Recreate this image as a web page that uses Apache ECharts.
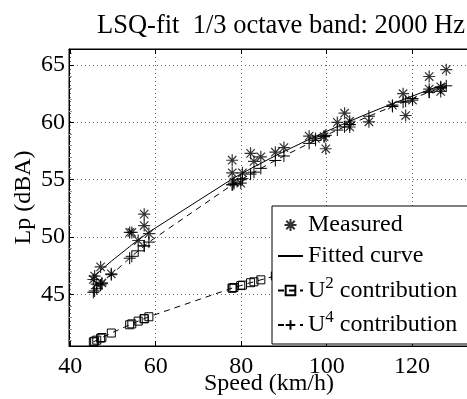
<!DOCTYPE html>
<html>
<head>
<meta charset="utf-8">
<script src="https://cdn.jsdelivr.net/npm/echarts@6/dist/echarts.min.js"></script>
<style>
  html, body { margin: 0; padding: 0; background: #fff; }
  #chart { width: 467px; height: 399px; }
</style>
</head>
<body>
<div id="chart"></div>
<script>
// Vehicle pass-by levels in the 2000 Hz third-octave band
const speed = [45.4, 45.7, 46.2, 47.1, 47.4, 49.6, 53.9, 54.4, 55.9, 57.3, 57.3, 58.4,
  77.9, 77.9, 78.3, 79.9, 80.3, 82.2, 83.0, 84.6, 88.0, 90.0,
  95.9, 97.4, 99.4, 99.8, 102.5, 104.2, 105.4, 105.4, 109.9, 115.4, 117.9, 118.5, 120.1,
  124.0, 124.0, 126.7, 126.7, 128.0];
const measured = [46.3, 46.6, 45.9, 47.4, 46.0, 46.8, 50.4, 50.4, 49.7, 52.0, 51.0, 50.3,
  56.7, 55.6, 54.8, 54.7, 55.6, 57.3, 56.6, 57.0, 57.4, 57.8,
  58.8, 58.6, 58.75, 57.7, 60.0, 60.8, 60.1, 59.6, 60.05, 61.5, 62.5, 60.6, 61.95,
  64.0, 62.9, 63.1, 62.7, 64.6];
const fitted = [46.55, 46.64, 46.81, 47.10, 47.20, 47.89, 49.17, 49.32, 49.75, 50.13, 50.13, 50.43,
  55.07, 55.07, 55.16, 55.49, 55.58, 55.96, 56.12, 56.43, 57.09, 57.46,
  58.52, 58.78, 59.12, 59.19, 59.63, 59.91, 60.10, 60.10, 60.81, 61.63, 61.99, 62.08, 62.30,
  62.85, 62.85, 63.21, 63.21, 63.39];
const u2Part = [40.86, 40.92, 41.01, 41.18, 41.24, 41.63, 42.35, 42.43, 42.67, 42.88, 42.88, 43.05,
  45.55, 45.55, 45.60, 45.77, 45.81, 46.02, 46.10, 46.27, 46.61, 46.80,
  47.36, 47.49, 47.67, 47.70, 47.93, 48.08, 48.18, 48.18, 48.54, 48.96, 49.15, 49.19, 49.31,
  49.59, 49.59, 49.78, 49.78, 49.86];
const u4Part = [45.18, 45.30, 45.49, 45.82, 45.93, 46.72, 48.16, 48.32, 48.80, 49.23, 49.23, 49.56,
  54.56, 54.56, 54.65, 55.00, 55.09, 55.49, 55.66, 55.99, 56.68, 57.07,
  58.17, 58.44, 58.80, 58.87, 59.33, 59.61, 59.81, 59.81, 60.54, 61.39, 61.76, 61.85, 62.08,
  62.64, 62.64, 63.01, 63.01, 63.19];
const xTicks = [40, 60, 80, 100, 120];
const yTicks = [45, 50, 55, 60, 65];

const FONT = '"Liberation Serif", "Times New Roman", Times, serif';
const pairs = (ys) => speed.map((x, i) => [x, ys[i]]);

const STAR = 'path://M10,0L10,20M0,10L20,10M3,3L17,17M3,17L17,3';
const PLUS = 'path://M10,0L10,20M0,10L20,10';

// the axes box runs past the right edge of the canvas
const xRange = { min: 39.7, max: 136.6 };
const yRange = { min: 40.5, max: 66.4 };

const chart = echarts.init(document.getElementById('chart'), null, { renderer: 'canvas' });

const tickLabel = (list) => (v) => (list.indexOf(Math.round(v * 1000) / 1000) >= 0 ? String(v) : '');

const legendNames = {
  'Measured': 'Measured',
  'Fitted curve': 'Fitted curve',
  'U2 contribution': 'U{sup|2} contribution',
  'U4 contribution': 'U{sup|4} contribution'
};

chart.setOption({
  animation: false,
  backgroundColor: '#fff',
  title: {
    text: 'LSQ-fit  1/3 octave band: 2000 Hz',
    left: 92,
    top: 8,
    textStyle: { fontFamily: FONT, fontSize: 26.5, fontWeight: 'normal', color: '#000' }
  },
  grid: { left: 69, right: -16, top: 49, bottom: 53, outerBoundsMode: 'none', containLabel: false,
          show: true, borderColor: '#000', borderWidth: 1 },
  xAxis: [{
    type: 'value', ...xRange, splitNumber: 5,
    name: 'Speed (km/h)', nameLocation: 'middle', nameGap: 26, nameMoveOverlap: false,
    nameTextStyle: { fontFamily: FONT, fontSize: 24, color: '#000', padding: [0, 14, 0, 0] },
    axisLine: { show: true, lineStyle: { color: '#000' } },
    axisTick: { inside: true, length: 5, lineStyle: { color: '#000' } },
    axisLabel: { fontFamily: FONT, fontSize: 24, color: '#000', margin: 9, formatter: tickLabel(xTicks), showMinLabel: false, showMaxLabel: false },
    splitLine: { show: true, lineStyle: { color: '#666', type: [1, 3] } }
  }, {
    type: 'value', ...xRange, splitNumber: 5, position: 'top',
    axisLine: { show: true, lineStyle: { color: '#000' } },
    axisTick: { inside: true, length: 5, lineStyle: { color: '#000' } },
    axisLabel: { show: false }, splitLine: { show: false }
  }],
  yAxis: [{
    type: 'value', ...yRange, splitNumber: 5,
    name: 'Lp (dBA)', nameLocation: 'middle', nameGap: 33, nameMoveOverlap: false,
    nameTextStyle: { fontFamily: FONT, fontSize: 24, color: '#000' },
    axisLine: { show: true, lineStyle: { color: '#000' } },
    axisTick: { inside: true, length: 5, lineStyle: { color: '#000' } },
    minorTick: { show: true, splitNumber: 5, length: 3, lineStyle: { color: '#999' } },
    axisLabel: { fontFamily: FONT, fontSize: 24, color: '#000', margin: 4, formatter: tickLabel(yTicks), showMinLabel: false, showMaxLabel: false },
    splitLine: { show: true, lineStyle: { color: '#666', type: [1, 3] } }
  }, {
    type: 'value', ...yRange, splitNumber: 5, position: 'right',
    axisLine: { show: true, lineStyle: { color: '#000' } },
    axisTick: { inside: true, length: 5, lineStyle: { color: '#000' } },
    axisLabel: { show: false }, splitLine: { show: false }
  }],
  legend: {
    orient: 'vertical', left: 272, top: 206, z: 10,
    backgroundColor: '#fff', borderColor: '#000', borderWidth: 1, borderRadius: 0,
    padding: [7, 40, 7, 5],
    itemWidth: 25, itemHeight: 12, itemGap: 7,
    selectedMode: false,
    textStyle: {
      fontFamily: FONT, fontSize: 24, color: '#000',
      rich: { sup: { fontFamily: FONT, fontSize: 17, verticalAlign: 'top', padding: [0, 0, 14, 0] } }
    },
    formatter: (name) => legendNames[name],
    data: [
      'Measured',
      { name: 'Fitted curve', itemStyle: { opacity: 0 } },
      'U2 contribution',
      'U4 contribution'
    ]
  },
  series: [{
    name: 'Measured', type: 'scatter', data: pairs(measured),
    symbol: STAR, symbolSize: 12,
    itemStyle: { color: 'none', borderColor: '#000', borderWidth: 1.2 }
  }, {
    name: 'Fitted curve', type: 'line', data: pairs(fitted),
    symbol: 'none', lineStyle: { color: '#000', width: 1 },
    itemStyle: { color: '#000' }
  }, {
    name: 'U2 contribution', type: 'line', data: pairs(u2Part),
    symbol: 'rect', symbolSize: 8, showAllSymbol: true,
    lineStyle: { color: '#000', width: 1, type: [6, 5] },
    itemStyle: { color: 'none', borderColor: '#000', borderWidth: 1 }
  }, {
    name: 'U4 contribution', type: 'line', data: pairs(u4Part),
    symbol: PLUS, symbolSize: 12, showAllSymbol: true,
    lineStyle: { color: '#000', width: 1, type: [6, 5] },
    itemStyle: { color: 'none', borderColor: '#000', borderWidth: 1 }
  }]
});
</script>
</body>
</html>
